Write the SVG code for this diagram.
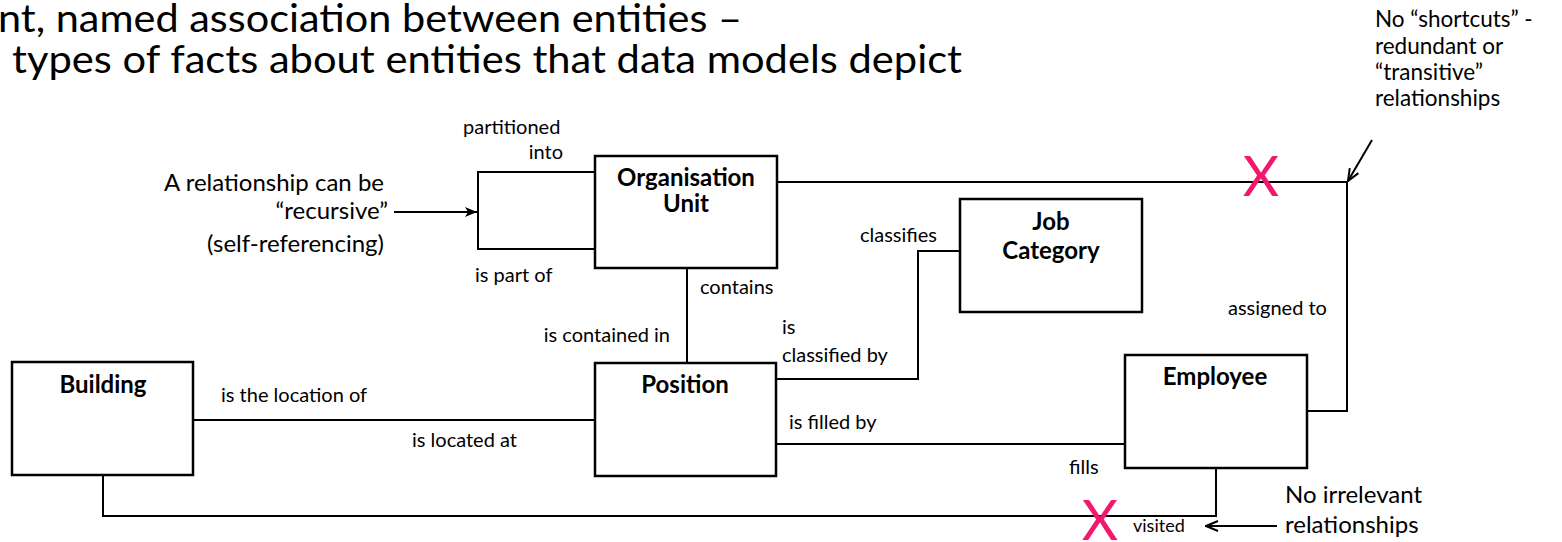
<svg xmlns="http://www.w3.org/2000/svg" width="1562" height="542" viewBox="0 0 1562 542">
<style>
.box{fill:#fff;stroke:#000;stroke-width:2.5}
.ln{fill:none;stroke:#000;stroke-width:2}
.title{font-family:Lato,"Open Sans",sans-serif;font-size:39px;fill:#000}
.ent{font-family:Lato,"Open Sans",sans-serif;font-size:24px;font-weight:bold;fill:#000;text-anchor:middle}
.lab{font-family:Lato,"Open Sans",sans-serif;font-size:20px;fill:#000}
.note{font-family:Lato,"Open Sans",sans-serif;font-size:24px;fill:#000}
.note2{font-family:Lato,"Open Sans",sans-serif;font-size:22.5px;fill:#000}
.x{font-family:Lato,"Open Sans",sans-serif;font-size:56px;fill:#F2186E;text-anchor:middle}
.e{text-anchor:end}
</style>
<defs>
<marker id="stealth" viewBox="0 0 12 10" refX="12" refY="5" markerWidth="12" markerHeight="10" markerUnits="userSpaceOnUse" orient="auto">
<path d="M0,0 L12,5 L0,10 L3,5 z" fill="#000"/>
</marker>
<marker id="open" viewBox="0 0 14 12" refX="13" refY="6" markerWidth="14" markerHeight="12" markerUnits="userSpaceOnUse" orient="auto">
<path d="M1,1 L13,6 L1,11" fill="none" stroke="#000" stroke-width="2"/>
</marker>
</defs>
<g id="title">
<text class="title" x="-2" y="32" textLength="744" lengthAdjust="spacingAndGlyphs">nt, named association between entities –</text>
<text class="title" x="12" y="73" textLength="950" lengthAdjust="spacingAndGlyphs">types of facts about entities that data models depict</text>
</g>
<g id="connectors">
<polyline class="ln" points="595,172 478,172 478,249 595,249"/>
<line class="ln" x1="777" y1="182" x2="1347" y2="182"/>
<polyline class="ln" points="1347,182 1347,411 1307,411"/>
<line class="ln" x1="687" y1="268" x2="687" y2="363"/>
<polyline class="ln" points="776,379 918,379 918,251 960,251"/>
<line class="ln" x1="193" y1="420" x2="595" y2="420"/>
<line class="ln" x1="776" y1="444" x2="1125" y2="444"/>
<polyline class="ln" points="103,475 103,516 1216,516 1216,468"/>
</g>
<g id="annotation-arrows">
<line class="ln" x1="394" y1="212" x2="477" y2="212" marker-end="url(#stealth)"/>
<line class="ln" x1="1372" y1="140" x2="1348" y2="181" marker-end="url(#open)"/>
<line class="ln" x1="1277" y1="526" x2="1206" y2="526" marker-end="url(#open)"/>
</g>
<g id="organisation-unit">
<rect class="box" x="595" y="156" width="182" height="112"/>
<text class="ent" x="686" y="186">Organisation</text>
<text class="ent" x="686" y="212">Unit</text>
</g>
<g id="job-category">
<rect class="box" x="960" y="199" width="182" height="113"/>
<text class="ent" x="1051" y="230">Job</text>
<text class="ent" x="1051" y="259">Category</text>
</g>
<g id="building">
<rect class="box" x="12" y="362" width="181" height="113"/>
<text class="ent" x="103" y="393">Building</text>
</g>
<g id="position">
<rect class="box" x="595" y="363" width="181" height="113"/>
<text class="ent" x="685" y="393">Position</text>
</g>
<g id="employee">
<rect class="box" x="1125" y="355" width="182" height="113"/>
<text class="ent" x="1215" y="385">Employee</text>
</g>
<g id="labels">
<text class="lab" x="463" y="134">partitioned</text>
<text class="lab e" x="563" y="159">into</text>
<text class="lab" x="475" y="282">is part of</text>
<text class="lab" x="700" y="294">contains</text>
<text class="lab e" x="670" y="342">is contained in</text>
<text class="lab" x="860" y="242">classifies</text>
<text class="lab" x="782" y="334">is</text>
<text class="lab" x="782" y="362">classified by</text>
<text class="lab" x="221" y="402">is the location of</text>
<text class="lab" x="412" y="447">is located at</text>
<text class="lab" x="789" y="429">is filled by</text>
<text class="lab" x="1069" y="474">fills</text>
<text class="lab" x="1228" y="315">assigned to</text>
<text class="lab" x="1133" y="532" style="font-size:18px">visited</text>
</g>
<g id="notes">
<text class="note e" x="384" y="191">A relationship can be</text>
<text class="note e" x="388" y="219">“recursive”</text>
<text class="note e" x="384" y="252">(self-referencing)</text>
<text class="note" x="1285" y="503">No irrelevant</text>
<text class="note" x="1285" y="533">relationships</text>
<text class="note2" x="1375" y="27">No “shortcuts” -</text>
<text class="note2" x="1375" y="54">redundant or</text>
<text class="note2" x="1375" y="80">“transitive”</text>
<text class="note2" x="1375" y="106">relationships</text>
</g>
<g id="crosses">
<text class="x" x="1261" y="196">X</text>
<text class="x" x="1100" y="540">X</text>
</g>
</svg>
